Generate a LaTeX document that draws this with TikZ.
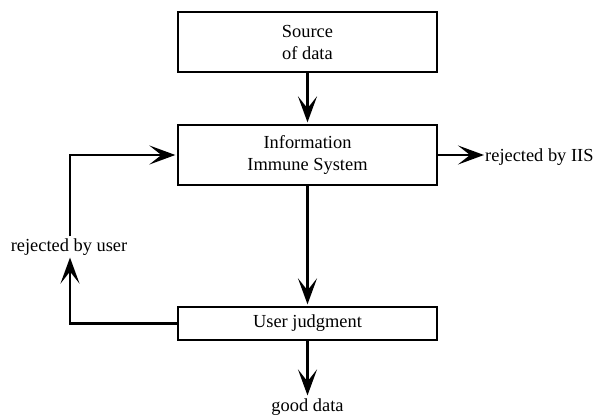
\documentclass[tikz,border=0pt]{standalone}
\usepackage{fontspec}
\setmainfont{Liberation Serif}
\usetikzlibrary{arrows.meta}
\begin{document}
\begin{tikzpicture}[x=1pt,y=-1pt,
  every node/.style={font=\rmfamily\fontsize{18.4}{22}\selectfont},
  blk/.style={draw,line width=1.3pt,minimum width=259pt,align=center,inner sep=0pt},
  flow/.style={line width=2.8pt,-{Stealth[length=26pt,width=19pt,inset=12pt]}}]
  \useasboundingbox (0,0) rectangle (594,417);
  % blocks
  \node[blk,minimum height=60pt] (src) at (307.5,42) {Source\\of data};
  \node[blk,minimum height=60pt] (iis) at (307.5,155) {Information\\Immune System};
  \node[blk,minimum height=33pt] (uj) at (307.5,323.5) {User judgment};
  % free labels
  \node[inner sep=0pt,anchor=west] (riis) at (485,157) {rejected by IIS};
  \node[inner sep=2pt] (rbu) at (69,247) {rejected by user};
  \node[inner sep=2pt] (good) at (307.5,407) {good data};
  % loop corners
  \coordinate (lb) at (70,323.5);
  \coordinate (lt) at (70,155);
  % connectors
  \draw[flow,shorten >=2pt] (src) -- (iis);
  \draw[flow,shorten >=2pt] (iis) -- (uj);
  \draw[flow,shorten >=1pt] (uj) -- (good);
  \draw[flow,shorten >=1pt] (iis.east) -- (iis.east -| riis.west);
  \draw[flow] (uj.west) -- (lb) -- (lb |- rbu.south);
  \draw[flow,shorten >=2pt] (lt |- rbu.north) -- (lt) -- (iis.west);
\end{tikzpicture}
\end{document}
